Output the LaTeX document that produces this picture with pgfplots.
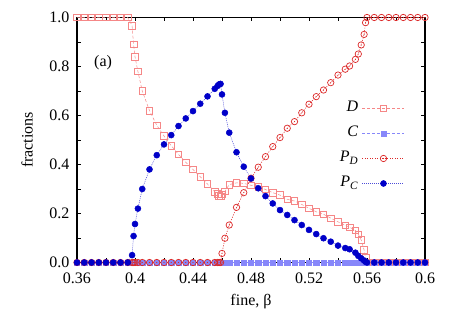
\documentclass[border=0pt]{standalone}
\usepackage{fontspec}
\setmainfont{Liberation Serif}
\usepackage{amstext}
\usepackage{pgfplots}
\pgfplotsset{compat=1.18}
\usepackage{pgfplotstable}
\definecolor{colD}{RGB}{245,135,135}
\definecolor{colC}{RGB}{135,135,250}
\definecolor{colPD}{RGB}{220,40,40}
\definecolor{colPC}{RGB}{0,0,200}
\pgfdeclareplotmark{odot}{%
  \pgfpathcircle{\pgfpointorigin}{\pgfplotmarksize}\pgfusepathqstroke
  \pgfpathcircle{\pgfpointorigin}{0.55pt}\pgfusepathqfill}

\pgfplotstableread{
b D C PD PC
0.36 1 0 0 0
0.365 1 0 0 0
0.37 1 0 0 0
0.375 1 0 0 0
0.38 1 0 0 0
0.385 1 0 0 0
0.39 1 0 0 0
0.395 1 0 0 0
0.398 0.967 0 0 0.030
0.399 0.890 0 0 0.108
0.4 0.840 0 0 0.157
0.402 0.780 0 0 0.220
0.405 0.700 0 0 0.300
0.41 0.620 0 0 0.380
0.415 0.560 0 0 0.438
0.42 0.516 0 0 0.482
0.425 0.477 0 0 0.520
0.43 0.441 0 0 0.557
0.435 0.409 0 0 0.588
0.44 0.380 0 0 0.618
0.445 0.350 0 0 0.648
0.45 0.320 0 0 0.678
0.455 0.289 0 0 0.709
0.457 0.279 0 0 0.721
0.458 0.272 0 0 0.727
0.459 0.270 0 0 0.729
0.46 0.278 0 0.037 0.686
0.462 0.290 0 0.099 0.611
0.465 0.318 0 0.153 0.530
0.47 0.325 0 0.225 0.450
0.475 0.323 0 0.285 0.391
0.48 0.315 0 0.344 0.343
0.485 0.309 0 0.389 0.303
0.49 0.298 0 0.432 0.271
0.495 0.285 0 0.473 0.241
0.5 0.275 0 0.510 0.214
0.505 0.258 0 0.548 0.194
0.51 0.251 0 0.575 0.173
0.515 0.237 0 0.611 0.153
0.52 0.221 0 0.646 0.133
0.525 0.207 0 0.677 0.116
0.53 0.197 0 0.704 0.099
0.535 0.181 0 0.734 0.085
0.54 0.166 0 0.765 0.069
0.545 0.152 0 0.789 0.059
0.548 0.144 0 0.802 0.054
0.552 0.131 0 0.829 0.040
0.554 0.115 0 0.851 0.027
0.556 0.092 0 0.888 0.017
0.558 0.051 0 0.931 0.008
0.559 0.018 0 0.979 0.003
0.56 0 0 1 0
0.565 0 0 1 0
0.57 0 0 1 0
0.575 0 0 1 0
0.58 0 0 1 0
0.585 0 0 1 0
0.59 0 0 1 0
0.595 0 0 1 0
0.6 0 0 1 0
}\datatab

\begin{document}
\begin{tikzpicture}[font=\fontsize{16}{19}\selectfont]
\useasboundingbox (-77pt,-52.5pt) rectangle (386pt,262.5pt);
\begin{axis}[
  scale only axis, width=348pt, height=245pt,
  xmin=0.36, xmax=0.6, ymin=0, ymax=1,
  xtick={0.36,0.4,0.44,0.48,0.52,0.56,0.6},
  xticklabels={0.36,0.4,0.44,0.48,0.52,0.56,0.6},
  minor xtick={0.38,0.42,0.46,0.5,0.54,0.58},
  ytick={0,0.2,0.4,0.6,0.8,1},
  yticklabels={0.0,0.2,0.4,0.6,0.8,1.0},
  minor ytick={0.1,0.3,0.5,0.7,0.9},
  xticklabel style={yshift=-7pt},
  yticklabel style={xshift=-4pt},
  tick align=inside, major tick length=4pt, minor tick length=4pt,
  every tick/.style={black, line width=0.8pt},
  axis line style={line width=1.2pt},
  xlabel={fine, β}, ylabel={fractions},
  xlabel style={at={(axis description cs:0.5,-0.161)}, anchor=center},
  ylabel style={at={(axis description cs:-0.1437,0.5)}, anchor=center},
  legend style={at={(axis cs:0.5862,0.66)}, anchor=north east, draw=none, fill=none,
    inner sep=0pt, row sep=10pt, column sep=4pt,
    nodes={text height=11pt, text depth=4pt, inner sep=0pt}},
  legend cell align=right, legend plot pos=right,
  legend image code/.code={\draw[mark repeat=2,mark phase=2,#1] plot coordinates {(0pt,0pt) (21pt,0pt) (42pt,0pt)};},
]
\addplot[colD, line width=0.5pt, dash pattern=on 3pt off 2pt, mark=square, mark size=3.3pt, mark options={solid, line width=0.7pt}] table[x=b,y=D] {\datatab};
\addlegendentry{\textit{D}}
\addplot[colC, line width=0.5pt, dash pattern=on 3pt off 2pt, mark=square*, mark size=2.6pt, mark options={solid, fill=colC}] table[x=b,y=C] {\datatab};
\addlegendentry{\textit{C}}
\addplot[colPD, line width=0.6pt, dash pattern=on 1pt off 1.5pt, mark=odot, mark size=3.2pt, mark options={solid, fill=colPD, line width=0.7pt}] table[x=b,y=PD] {\datatab};
\addlegendentry{\textit{P}$_{\textit{D}}$}
\addplot[colPC!70, line width=0.5pt, dash pattern=on 1pt off 1pt, mark=*, mark size=3pt, mark options={solid, draw=colPC, fill=colPC}] table[x=b,y=PC] {\datatab};
\addlegendentry{\textit{P}$_{\textit{C}}$}
\node at (axis cs:0.378,0.814) {(a)};
\end{axis}
\end{tikzpicture}
\end{document}
